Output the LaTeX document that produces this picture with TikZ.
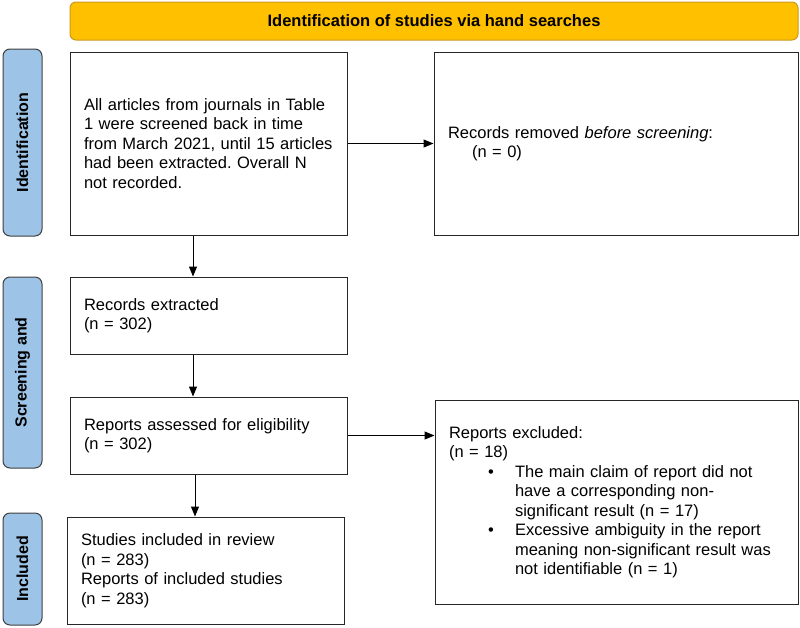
\documentclass[tikz,border=0pt]{standalone}
\usepackage{fontspec}
\setmainfont{Liberation Sans}
\frenchspacing
\usetikzlibrary{arrows.meta}
\definecolor{headfill}{HTML}{FFC000}
\definecolor{headline}{HTML}{C99A1E}
\definecolor{sidefill}{HTML}{9DC3E6}
\tikzset{box/.style={draw=black!85, line width=1pt, rectangle, align=left,
  inner xsep=14pt, font=\fontsize{16.5}{19.5}\selectfont}}
\tikzset{sidebar/.style={draw=black!75, fill=sidefill, line width=1pt, rounded corners=7pt,
  rotate=90, minimum height=39pt, inner sep=0pt, font=\fontsize{16}{19}\selectfont\bfseries}}
\tikzset{arr/.style={-{Triangle[length=10pt,width=8pt]}, line width=1pt, black}}

\begin{document}
\begin{tikzpicture}[x=1pt,y=-1pt]
\useasboundingbox (0,0) rectangle (800,627);

\node[draw=headline, fill=headfill, line width=1pt, rounded corners=6pt,
  minimum width=728pt, minimum height=38pt, font=\fontsize{16.5}{19.5}\selectfont\bfseries]
  (head) at (434,21) {Identification of studies via hand searches};

\foreach \y/\h/\t [count=\i] in {142.5/187/Identification, 372.5/191/Screening and, 569/112/Included}{
  \node[sidebar, minimum width=\h pt] (side\i) at (22.5,\y) {\t};
}

\node[box, minimum width=277pt, minimum height=183pt, text width=249pt] (hand) at (208.5,143.5)
  {All articles from journals in Table\\1 were screened back in time\\from March 2021, until 15 articles\\had been extracted. Overall N\\not recorded.};
\node[box, minimum width=364pt, minimum height=183pt, text width=336pt] (removed) at (616,143.5)
  {Records removed \textit{before screening}:\\\hspace*{24pt}(n = 0)};
\node[box, minimum width=277pt, minimum height=77pt, text width=249pt] (extracted) at (208.5,315.5)
  {Records extracted\\(n = 302)};
\node[box, minimum width=277pt, minimum height=77pt, text width=249pt] (assessed) at (208.5,435.5)
  {Reports assessed for eligibility\\(n = 302)};
\node[box, minimum width=363pt, minimum height=204pt, text width=335pt] (excluded) at (616.5,502)
  {Reports excluded:\\(n = 18)\\
   \hspace*{39pt}\makebox[27pt][l]{\textbullet}The main claim of report did not\\
   \hspace*{66pt}have a corresponding non-\\
   \hspace*{66pt}significant result (n = 17)\\
   \hspace*{39pt}\makebox[27pt][l]{\textbullet}Excessive ambiguity in the report\\
   \hspace*{66pt}meaning non-significant result was\\
   \hspace*{66pt}not identifiable (n = 1)};
\node[box, minimum width=277pt, minimum height=107pt, text width=249pt] (included) at (205.5,570.5)
  {Studies included in review\\(n = 283)\\Reports of included studies\\(n = 283)};

\draw[arr] (hand) -- (removed);
\draw[arr] ([xshift=-15.5pt]hand.south) -- ([xshift=-15.5pt]extracted.north);
\draw[arr] ([xshift=-15.5pt]extracted.south) -- ([xshift=-15.5pt]assessed.north);
\draw[arr] (assessed.east) -- (assessed.east -| excluded.west);
\draw[arr] ([xshift=-13.5pt]assessed.south) -- ([xshift=-13.5pt]assessed.south |- included.north);

\end{tikzpicture}
\end{document}
